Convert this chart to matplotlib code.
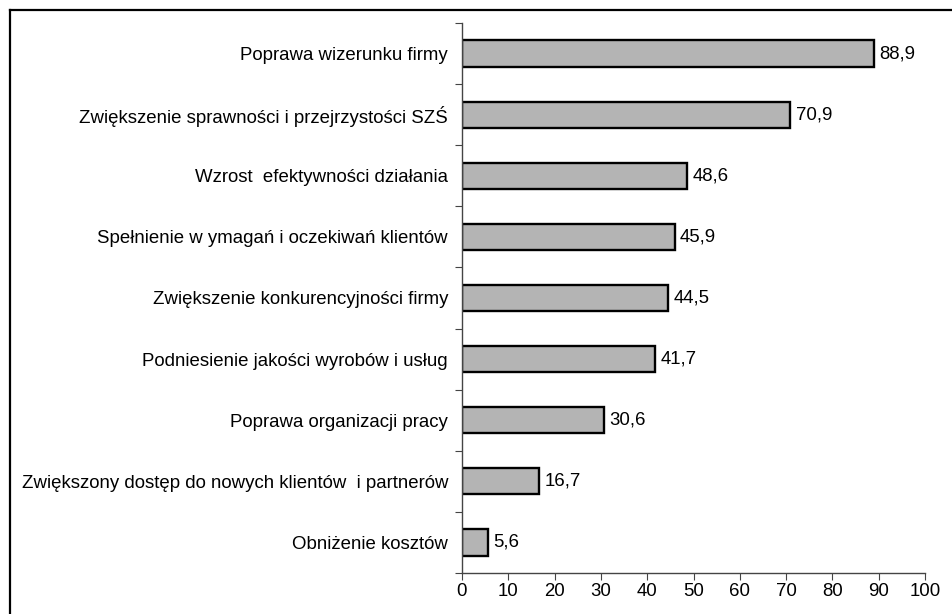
import numpy as np
import matplotlib
matplotlib.use("Agg")
import matplotlib.pyplot as plt
from matplotlib.lines import Line2D

categories = [
    "Poprawa wizerunku firmy",
    "Zwiększenie sprawności i przejrzystości SZŚ",
    "Wzrost  efektywności działania",
    "Spełnienie w ymagań i oczekiwań klientów",
    "Zwiększenie konkurencyjności firmy",
    "Podniesienie jakości wyrobów i usług",
    "Poprawa organizacji pracy",
    "Zwiększony dostęp do nowych klientów  i partnerów",
    "Obniżenie kosztów",
]
values = [88.9, 70.9, 48.6, 45.9, 44.5, 41.7, 30.6, 16.7, 5.6]
x_ticks = [0, 10, 20, 30, 40, 50, 60, 70, 80, 90, 100]

plt.rcParams["font.family"] = ["Liberation Sans", "DejaVu Sans"]
FS = 13.4

W, H = 953, 614
fig = plt.figure(figsize=(W / 100, H / 100), dpi=100)
ax = fig.add_axes([462 / W, 1 - 573 / H, (925 - 462) / W, (573 - 23) / H])

n = len(categories)
pos = np.arange(n)[::-1] + 0.5
ax.barh(pos, values, height=0.43, color="#b4b4b4", edgecolor="black", linewidth=1.7)

for y, v in zip(pos, values):
    ax.annotate(f"{v:.1f}".replace(".", ","), (v, y), xytext=(4, 0),
                textcoords="offset points", va="center", ha="left", fontsize=FS)

ax.set_xlim(0, 100)
ax.set_ylim(0, n)
ax.set_xticks(x_ticks)
ax.set_xticklabels([str(t) for t in x_ticks], fontsize=FS)
ax.set_yticks(np.arange(n + 1))
ax.set_yticklabels([])
ax.set_yticks(pos, minor=True)
ax.set_yticklabels(categories, minor=True, fontsize=FS)
ax.tick_params(axis="y", which="minor", length=0, pad=10)
ax.tick_params(axis="y", which="major", length=5, color="#444444", direction="out")
ax.tick_params(axis="x", length=5, color="#444444", pad=2)

for s in ["top", "right"]:
    ax.spines[s].set_visible(False)
for s in ["left", "bottom"]:
    ax.spines[s].set_color("#444444")
    ax.spines[s].set_linewidth(1.0)

# frame cut at the right and bottom, as in the source
fig.add_artist(Line2D([10 / W, 1], [1 - 10 / H, 1 - 10 / H], color="black", lw=1.6,
                      transform=fig.transFigure))
fig.add_artist(Line2D([10 / W, 10 / W], [0, 1 - 10 / H], color="black", lw=1.6,
                      transform=fig.transFigure))

fig.savefig("out.png", dpi=100)
